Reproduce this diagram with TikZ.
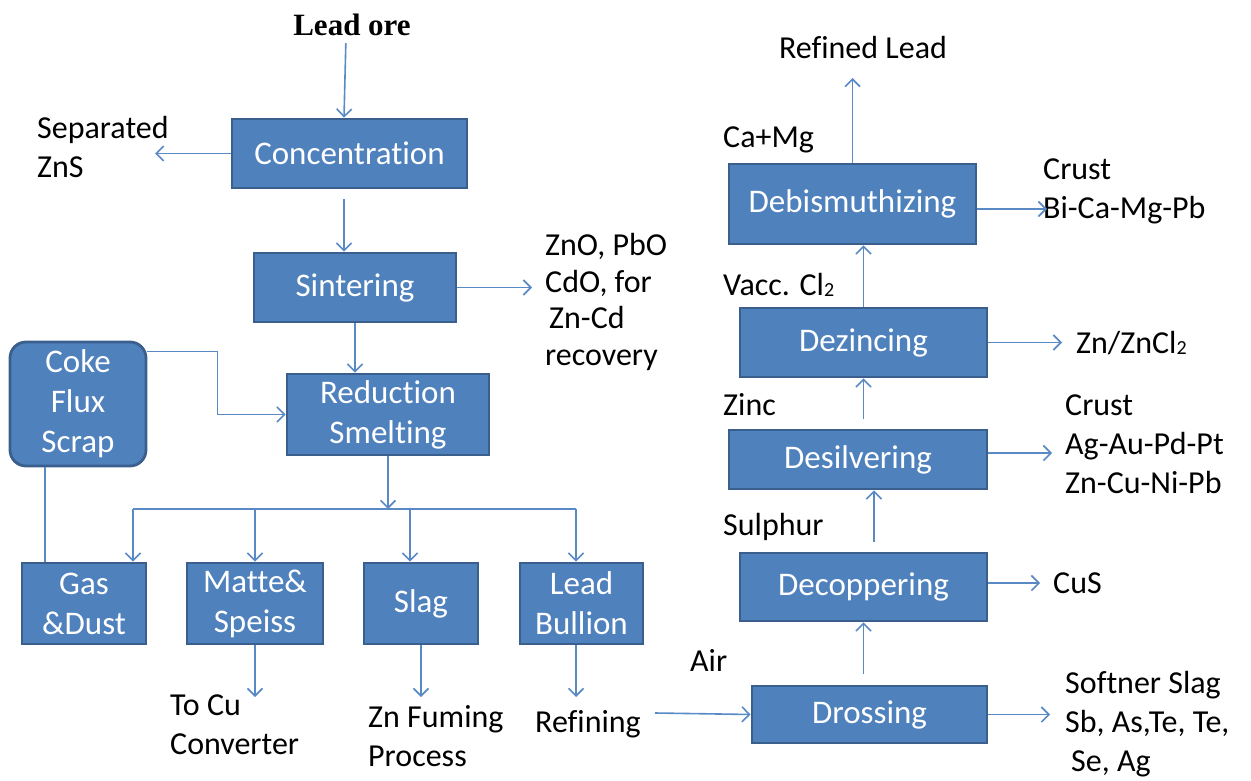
\documentclass[tikz,border=0pt]{standalone}
\usepackage{fontspec}
\usetikzlibrary{arrows.meta}
\newfontfamily\calfont[Ligatures=NoCommon]{Carlito}
\newfontfamily\timesfont{Liberation Serif}
\definecolor{boxfill}{HTML}{4F81BD}
\definecolor{boxedge}{HTML}{3A5F8C}
\definecolor{flow}{HTML}{5A8AC6}
% small subscript two sitting near the baseline
\newcommand{\subtwo}{\raisebox{-1.5pt}{\fontsize{20}{20}\selectfont 2}}
\begin{document}
\begin{tikzpicture}[x=1pt,y=-1pt,
  proc/.style={draw=boxedge, line width=2.8pt, fill=boxfill, text=white,
    font=\calfont\fontsize{33}{40}\selectfont, align=center, inner sep=0pt},
  lbl/.style={font=\calfont\fontsize{32}{39}\selectfont, align=left,
    inner sep=0pt, anchor=west},
  flowline/.style={draw=flow, line width=1.6pt},
  arr/.style={flowline, -{Straight Barb[length=7.5pt,width=15pt]}}
]
\useasboundingbox (0,0) rectangle (1251,781);

% ---- smelting line (left) ----
\node[font=\timesfont\bfseries\fontsize{31}{36}\selectfont, inner sep=0pt] (ore) at (352,25) {Lead ore};
\node[proc, minimum width=235pt, minimum height=69pt] (conc) at (349.5,153.5) {Concentration};
\node[proc, minimum width=202pt, minimum height=69pt] (sint) at (355,287.5) {Sintering};
\node[proc, minimum width=202pt, minimum height=81pt] (red) at (388,414.5) {Reduction\\Smelting};
\node[proc, rounded corners=16pt, minimum width=136pt, minimum height=124pt] (coke) at (78,404) {Coke\\Flux\\Scrap};
\node[proc, minimum width=124pt, minimum height=81pt] (gas) at (84,603.5) {Gas\\\&Dust};
\node[proc, minimum width=136pt, minimum height=81pt] (matte) at (255,603.5) {Matte\&\\Speiss};
\node[proc, minimum width=114pt, minimum height=81pt] (slag) at (421,603.5) {Slag};
\node[proc, minimum width=123pt, minimum height=81pt] (bull) at (581.5,603.5) {Lead\\Bullion};

\node[lbl] (sep) at (37,147) {Separated\\ZnS};
\node[lbl, font=\calfont\fontsize{32}{36.5}\selectfont] (zno) at (545,302) {ZnO, PbO\\CdO, for\\\hspace{4pt}Zn-Cd\\recovery};
\node[lbl] (tocu) at (170,725) {To Cu\\Converter};
\node[lbl] (znf) at (368,736) {Zn Fuming\\Process};
\node[lbl] (refin) at (535,724) {Refining};

% ---- refining line (right) ----
\node[proc, minimum width=235pt, minimum height=57pt] (dross) at (869.5,714.5) {Drossing};
\node[proc, minimum width=247pt, minimum height=68pt] (decop) at (863.5,587) {Decoppering};
\node[proc, minimum width=258pt, minimum height=59pt] (desil) at (858,459.5) {Desilvering};
\node[proc, minimum width=247pt, minimum height=69pt] (dezinc) at (863.5,342.5) {Dezincing};
\node[proc, minimum width=247pt, minimum height=80pt] (debis) at (852.5,204) {Debismuthizing};

\node[lbl, anchor=center] (refined) at (863,48) {Refined Lead};
\node[lbl] (camg) at (723,140) {Ca+Mg};
\node[lbl] (crust1) at (1043,191) {Crust\\Bi-Ca-Mg-Pb};
\node[lbl] (vacc) at (723,285) {Vacc. Cl\subtwo};
\node[lbl] (zncl) at (1076,343) {Zn/ZnCl\subtwo};
\node[lbl] (zinc) at (723,405) {Zinc};
\node[lbl] (crust2) at (1065,444) {Crust\\Ag-Au-Pd-Pt\\Zn-Cu-Ni-Pb};
\node[lbl] (sulph) at (723,527) {Sulphur};
\node[lbl] (cus) at (1053,583) {CuS};
\node[lbl] (air) at (690,660) {Air};
\node[lbl] (soft) at (1065,724) {Softner Slag\\Sb, As,Te, Te,\\\hspace{6pt}Se, Ag};

% ---- free ends of connectors ----
\coordinate (sepTip) at (155,153.5);
\coordinate (znoTip) at (532,287.5);
\coordinate (busL) at (133,509);
\coordinate (busR) at (576,509);
\coordinate (b3) at (410,509);
\coordinate (mEnd) at (255,697);
\coordinate (sEnd) at (421,697);
\coordinate (bEnd) at (576,697);
\coordinate (rfStart) at (655,713);
\coordinate (refTip) at (852.5,78);
\coordinate (biTip) at (1047,209);
\coordinate (zncTip) at (1062,342.5);
\coordinate (agTip) at (1052,453);
\coordinate (cusTip) at (1040,583);
\coordinate (softTip) at (1050,714.5);

% ---- connectors, left ----
\draw[arr, shorten <=7pt] ([xshift=-6pt]ore.south) -- ([xshift=-5.5pt]conc.north);
\draw[arr] (conc.west) -- (sepTip);
\draw[arr, shorten <=10pt] ([xshift=-5.5pt]conc.south) -- ([xshift=-11pt]sint.north);
\draw[arr] (sint.east) -- (znoTip);
\draw[arr] (sint.south) -- ([xshift=-33pt]red.north);
\draw[arr] ([yshift=-11pt]coke.north east) -- ++(70,0) |- (red.west);
\draw[flowline] ([xshift=-33pt]coke.south) -- ([xshift=-39pt]gas.north);
\draw[arr] (red.south) -- (red.south |- busL);
\draw[flowline] (busL) -- (busR);
\draw[arr] (busL) -- ([xshift=49pt]gas.north);
\draw[arr] (matte.north |- busL) -- (matte.north);
\draw[arr] (b3) -- ([xshift=-11pt]slag.north);
\draw[arr] (busR) -- ([xshift=-5.5pt]bull.north);
\draw[arr] (matte.south) -- (mEnd);
\draw[arr] (slag.south) -- (sEnd);
\draw[arr] ([xshift=-5.5pt]bull.south) -- (bEnd);

% ---- connectors, right ----
\draw[arr] (rfStart) -- (dross.west);
\draw[arr, shorten <=11pt] ([xshift=-6pt]dross.north) -- (decop.south);
\draw[arr, shorten <=10pt] ([xshift=10.5pt]decop.north) -- ([xshift=16pt]desil.south);
\draw[arr, shorten <=10pt] ([xshift=5.5pt]desil.north) -- (dezinc.south);
\draw[arr] (dezinc.north) -- ([xshift=11pt]debis.south);
\draw[arr] (debis.north) -- (refTip);
\draw[arr] ([yshift=-5pt]debis.east) -- (biTip);
\draw[arr] (dezinc.east) -- (zncTip);
\draw[arr] ([yshift=6.5pt]desil.east) -- (agTip);
\draw[arr] ([yshift=4pt]decop.east) -- (cusTip);
\draw[arr] (dross.east) -- (softTip);
\end{tikzpicture}
\end{document}
